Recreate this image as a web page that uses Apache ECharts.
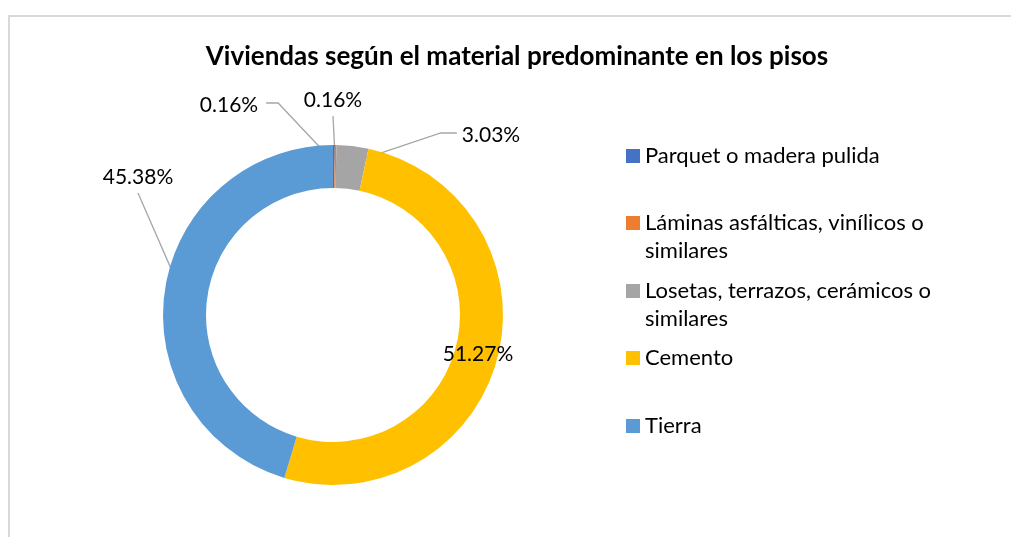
<!DOCTYPE html>
<html>
<head>
<meta charset="utf-8">
<title>Viviendas según el material predominante en los pisos</title>
<script src="https://cdn.jsdelivr.net/npm/echarts@6/dist/echarts.min.js"></script>
<style>
    html, body { margin: 0; padding: 0; background: #fff; }
    #frame {
        position: absolute; left: 8px; top: 15px; width: 1100px; height: 600px;
        border-top: 2px solid #d9d9d9; border-left: 2px solid #d9d9d9;
    }
    #chart { position: absolute; left: 0; top: 0; width: 1011px; height: 537px; }
</style>
</head>
<body>
<div id="frame"></div>
<div id="chart"></div>
<script>
// datos (porcentajes)
const categories = [
    'Parquet o madera pulida',
    'Láminas asfálticas, vinílicos o similares',
    'Losetas, terrazos, cerámicos o similares',
    'Cemento',
    'Tierra'
]
const percents = [0.16, 0.16, 3.03, 51.27, 45.38]
const colors = ['#4472C4', '#ED7D31', '#A5A5A5', '#FFC000', '#5B9BD5']

// posiciones de las etiquetas (centro del texto) y lado de la guía
const labelPos = [[229, 105], [333, 100], [491, 135], [478, 354], [138, 177]]
const labelSide = ['right', 'bottom', 'left', null, 'bottom']
// centro vertical del icono de cada leyenda
const legendY = [156, 223, 291, 358, 426]

const FONT = 'Lato'
const center = [333, 315]
const radius = [127, 170]

const chart = echarts.init(document.getElementById('chart'))

function legendText(name) {
    const m = name.match(/^(.*) (similares)$/)
    if (m) return '{s| }\n{t|' + m[1] + '}\n{t|' + m[2] + '}'
    return name
}

// punto medio de cada sector, dentro del anillo
function midPoint(i) {
    let cum = 0
    for (let k = 0; k < i; k++) cum += percents[k]
    const total = percents.reduce((a, b) => a + b, 0)
    const ang = (cum + percents[i] / 2) / total * Math.PI * 2
    const r = radius[1] * 0.9
    return [center[0] + r * Math.sin(ang), center[1] - r * Math.cos(ang)]
}

const option = {
    animation: false,
    textStyle: { fontFamily: FONT },
    title: {
        text: 'Viviendas según el material predominante en los pisos',
        left: 517,
        top: 44,
        padding: 0,
        textAlign: 'center',
        textVerticalAlign: 'top',
        textStyle: { fontFamily: FONT, fontSize: 26, fontWeight: 'bold', color: '#000' }
    },
    legend: categories.map((name, i) => {
        const multi = /similares$/.test(name)
        return {
            data: [name],
            left: 626,
            top: legendY[i] - (multi ? 42 : 14),
            padding: 0,
            icon: 'rect',
            itemWidth: 14,
            itemHeight: 14,
            selectedMode: false,
            formatter: legendText,
            textStyle: {
                fontFamily: FONT, fontSize: 22, color: '#000', lineHeight: 28,
                rich: {
                    s: { fontSize: 22, lineHeight: 28 },
                    t: { fontFamily: FONT, fontSize: 22, lineHeight: 28, color: '#000' }
                }
            }
        }
    }),
    series: [{
        type: 'pie',
        center: center,
        radius: radius,
        startAngle: 90,
        clockwise: true,
        avoidLabelOverlap: false,
        color: colors,
        itemStyle: { borderWidth: 0 },
        label: {
            show: true,
            fontFamily: FONT,
            fontSize: 21,
            color: '#000',
            formatter: p => p.value.toFixed(2) + '%'
        },
        labelLine: { show: true, lineStyle: { color: '#A6A6A6', width: 1.3 } },
        labelLayout: function (params) {
            const i = params.dataIndex
            const [cx, cy] = labelPos[i]
            const res = { x: cx, y: cy, align: 'center', verticalAlign: 'middle' }
            const side = labelSide[i]
            if (side) {
                const w = params.labelRect.width
                const end = midPoint(i)
                let a, k
                if (side === 'right') {
                    a = [cx + w / 2 + 8, cy - 2]
                    k = [a[0] + 12, a[1]]
                } else if (side === 'left') {
                    a = [cx - w / 2 - 5, cy - 2]
                    k = [a[0] - 16, a[1]]
                } else {
                    a = [cx, cy + 16]
                    k = a
                }
                res.labelLinePoints = [end, k, a]
            }
            return res
        },
        data: categories.map((name, i) => ({
            name: name,
            value: percents[i],
            labelLine: { show: labelSide[i] !== null }
        }))
    }]
}

chart.setOption(option)
</script>
</body>
</html>
